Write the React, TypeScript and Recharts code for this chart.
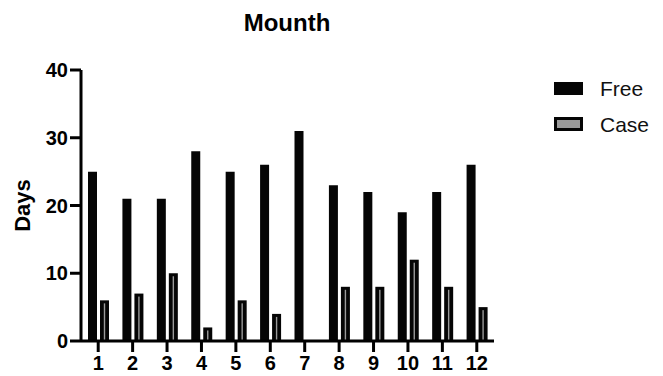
import { BarChart, Bar, XAxis, YAxis } from "recharts";

const months = ["1", "2", "3", "4", "5", "6", "7", "8", "9", "10", "11", "12"];
const free = [25, 21, 21, 28, 25, 26, 31, 23, 22, 19, 22, 26];
const cases = [6, 7, 10, 2, 6, 4, 0, 8, 8, 12, 8, 5];
const yTicks = [0, 10, 20, 30, 40];

const data = months.map((m, i) => ({ month: m, free: free[i], case: cases[i] }));

const FONT = "'Liberation Sans', Arial, sans-serif";

const CaseBar = (props: any) => {
  const { x, y, width, height } = props;
  if (!height || height <= 0) return null;
  const inset = 3.8;
  return (
    <g>
      <rect x={x} y={y} width={width} height={height} fill="#050505" />
      <rect
        x={x + inset}
        y={y + 3}
        width={Math.max(width - inset * 2, 0)}
        height={Math.max(height - 3, 0)}
        fill="#9a9a9a"
      />
    </g>
  );
};

function ChartLegend() {
  return (
    <svg width={110} height={60} style={{ position: "absolute", left: 554, top: 80, overflow: "visible" }}>
      <rect x={0} y={2} width={29} height={13} fill="#050505" />
      <text x={46} y={16} fontSize={21} fontFamily={FONT} fill="#111">
        Free
      </text>
      <rect x={1.5} y={38.5} width={26} height={11} fill="#9a9a9a" stroke="#050505" strokeWidth={3} />
      <text x={46} y={52} fontSize={21} fontFamily={FONT} fill="#111">
        Case
      </text>
    </svg>
  );
}

export default function App() {
  return (
    <div style={{ position: "absolute", left: 0, top: 0, width: 663, height: 376, background: "#fff" }}>
      <div
        style={{
          position: "absolute",
          left: 0,
          width: 574,
          top: 9,
          textAlign: "center",
          fontFamily: FONT,
          fontWeight: "bold",
          fontSize: 24,
          color: "#000",
          lineHeight: "28px",
        }}
      >
        Mounth
      </div>
      <BarChart
        width={663}
        height={376}
        data={data}
        margin={{ top: 70, right: 169, bottom: 0, left: 0 }}
        barSize={9}
        barGap={3}
      >
        <XAxis
          dataKey="month"
          height={35}
          interval={0}
          stroke="#000"
          strokeWidth={3}
          tickSize={11}
          tickMargin={4}
          tick={{ fill: "#000", fontSize: 20, fontWeight: "bold", fontFamily: FONT }}
        />
        <YAxis
          width={81}
          domain={[0, 40]}
          ticks={yTicks}
          stroke="#000"
          strokeWidth={3}
          tickSize={11}
          tickMargin={2}
          tick={{ fill: "#000", fontSize: 20, fontWeight: "bold", fontFamily: FONT }}
          label={{
            value: "Days",
            angle: -90,
            position: "insideLeft",
            offset: 22,
            style: { fill: "#000", fontSize: 22, fontWeight: "bold", fontFamily: FONT, textAnchor: "middle" },
          }}
        />
        <Bar dataKey="free" name="Free" fill="#050505" isAnimationActive={false} />
        <Bar dataKey="case" name="Case" fill="#9a9a9a" shape={CaseBar} isAnimationActive={false} />
      </BarChart>
      <ChartLegend />
    </div>
  );
}
